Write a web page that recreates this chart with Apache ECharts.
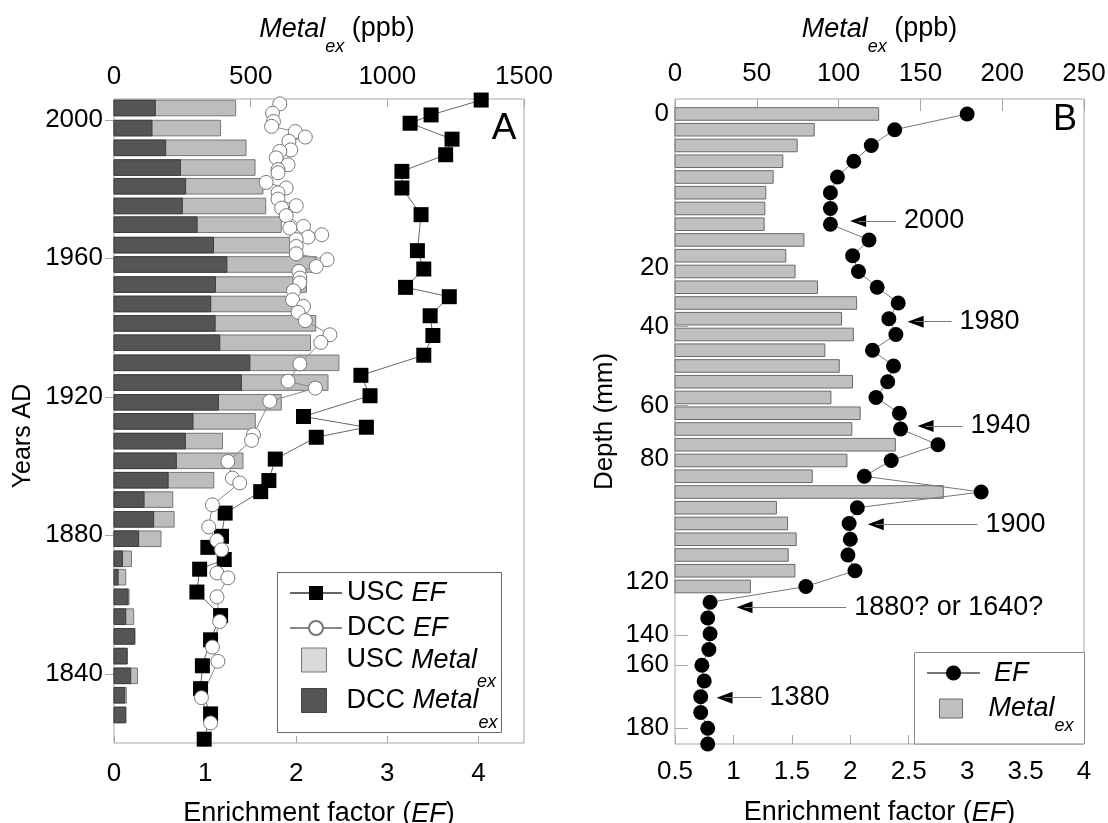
<!DOCTYPE html>
<html>
<head>
<meta charset="utf-8">
<title>Metal enrichment profiles</title>
<script src="https://cdn.jsdelivr.net/npm/echarts@6/dist/echarts.min.js"></script>
<style>
  html, body { margin: 0; padding: 0; background: #fff; }
  #chart { width: 1108px; height: 823px; }
</style>
</head>
<body>
<div id="chart"></div>
<script>
// ---- Panel A: dated cores, years AD ----
const barYearsA = [2003.4, 1997.6, 1991.9, 1986.2, 1980.8, 1975.1, 1969.7, 1963.8, 1958.2, 1952.4, 1946.8,
  1941.2, 1935.6, 1929.8, 1924.1, 1918.4, 1912.9, 1907.2, 1901.5, 1895.9, 1890.3, 1884.6, 1879.0,
  1873.2, 1867.9, 1862.2, 1856.5, 1850.8, 1845.1, 1839.4, 1833.8, 1828.1];
const uscMetalA = [445, 390, 483, 516, 545, 555, 612, 645, 740, 704, 665, 738, 719, 823, 783, 612,
  517, 397, 472, 365, 215, 220, 172, 64, 43, 55, 72, 76, 48, 86, 45, 43];
const dccMetalA = [151, 139, 189, 243, 262, 250, 304, 364, 413, 371, 354, 370, 387, 497, 466, 382,
  289, 261, 228, 198, 110, 145, 90, 31, 15, 51, 43, 76, 48, 61, 39, 43];

const uscYearsA = [2005.7, 2001.4, 1999.0, 1994.4, 1989.9, 1985.1, 1980.3, 1972.6, 1962.2, 1956.9,
  1951.6, 1948.9, 1943.4, 1937.7, 1932.0, 1926.2, 1920.3, 1914.3, 1911.2, 1908.3, 1902.0, 1895.8,
  1892.6, 1886.4, 1879.7, 1876.5, 1873.0, 1870.2, 1863.6, 1856.8, 1849.8, 1842.3, 1835.7, 1828.4, 1821.1];
const uscEfA = [4.03, 3.48, 3.25, 3.71, 3.64, 3.16, 3.16, 3.37, 3.33, 3.40, 3.20, 3.68, 3.47, 3.50,
  3.40, 2.71, 2.81, 2.08, 2.77, 2.22, 1.77, 1.70, 1.61, 1.22, 1.18, 1.03, 1.21, 0.94, 0.91, 1.17,
  1.06, 0.97, 0.95, 1.06, 0.99];

const dccYearsA = [2004.6, 2001.9, 1999.5, 1998.1, 1996.6, 1995.0, 1993.8, 1991.3, 1990.9, 1989.0,
  1987.0, 1985.6, 1984.7, 1981.9, 1980.3, 1978.9, 1977.1, 1975.2, 1974.5, 1972.3, 1969.2, 1968.7,
  1966.8, 1966.1, 1965.4, 1963.4, 1961.3, 1959.6, 1957.6, 1956.2, 1954.3, 1952.9, 1950.6, 1948.0,
  1946.1, 1944.4, 1942.0, 1937.9, 1935.7, 1929.5, 1924.5, 1922.5, 1918.7, 1909.0, 1907.4, 1901.3,
  1896.5, 1895.1, 1888.8, 1882.4, 1878.5, 1875.8, 1869.1, 1867.7, 1862.2, 1855.1, 1847.7, 1843.6,
  1833.1, 1825.8];
const dccEfA = [1.82, 1.74, 1.75, 1.73, 1.99, 2.10, 1.92, 1.94, 1.82, 1.78, 1.91, 1.80, 1.80, 1.67,
  1.89, 1.80, 1.80, 2.00, 1.84, 1.89, 2.08, 1.93, 2.28, 2.13, 2.00, 2.00, 2.00, 2.34, 2.22, 2.03,
  2.04, 2.04, 1.97, 1.96, 2.08, 2.02, 2.10, 2.37, 2.27, 2.04, 1.91, 2.21, 1.71, 1.53, 1.51, 1.25,
  1.30, 1.38, 1.08, 1.04, 1.13, 1.18, 1.13, 1.25, 1.13, 1.16, 1.08, 1.14, 0.96, 1.06];

const yearTicksA = [1840, 1880, 1920, 1960, 2000];
const efTicksA = [0, 1, 2, 3, 4];

// ---- Panel B: one row per sample, depth labels at their sample rows ----
const sampleB = [1, 2, 3, 4, 5, 6, 7, 8, 9, 10, 11, 12, 13, 14, 15, 16, 17, 18, 19, 20, 21, 22, 23,
  24, 25, 26, 27, 28, 29, 30, 31, 32, 33, 34, 35, 36, 37, 38, 39, 40, 41];
const efB = [3.00, 2.38, 2.18, 2.03, 1.89, 1.83, 1.83, 1.83, 2.16, 2.02, 2.07, 2.23, 2.41, 2.33,
  2.39, 2.19, 2.37, 2.32, 2.22, 2.42, 2.43, 2.75, 2.35, 2.12, 3.12, 2.06, 1.99, 2.00, 1.98, 2.04,
  1.62, 0.80, 0.78, 0.80, 0.79, 0.73, 0.75, 0.72, 0.72, 0.78, 0.78];
const metalB = [124.5, 85.1, 74.7, 65.9, 60.0, 55.5, 54.9, 54.5, 78.8, 67.7, 73.4, 87.1, 111.0,
  101.8, 109.0, 91.6, 100.4, 108.5, 95.3, 113.2, 108.1, 134.7, 105.1, 83.9, 164.0, 62.0, 68.8,
  74.1, 69.2, 73.3, 46.1];
const depthTickRowsB = [1.0, 10.8, 14.5, 19.5, 22.9, 30.7, 34.1, 36.0, 40.0];
const depthTickLabelsB = ['0', '20', '40', '60', '80', '120', '140', '160', '180'];

// date arrows: row, EF at the arrow head, EF where the tail ends
const arrowTextB = ['2000', '1980', '1940', '1900', '1880? or 1640?', '1380'];
const arrowRowsB = [7.79, 14.19, 20.81, 27.05, 32.32, 38.06];
const arrowFromB = [2.067, 2.559, 2.644, 2.218, 1.095, 0.924];
const arrowToB = [2.392, 2.866, 2.960, 3.088, 1.965, 1.240];

const FONT = 'Liberation Sans, Arial, Helvetica, sans-serif';
const FRAME = '#a8a8a8';
const TXT = 27;   // titles, legend, annotations
const TICK = 26;  // tick labels

// horizontal bar drawn from 0 to value, centred on a y value
function hBar(halfH, fill, stroke) {
  return function (params, api) {
    const a = api.coord([0, api.value(0) - halfH]);
    const b = api.coord([api.value(1), api.value(0) + halfH]);
    return {
      type: 'rect',
      shape: {
        x: Math.min(a[0], b[0]), y: Math.min(a[1], b[1]),
        width: Math.abs(b[0] - a[0]), height: Math.abs(b[1] - a[1])
      },
      style: { fill: fill, stroke: stroke, lineWidth: 1 }
    };
  };
}

function legendText(name) {
  return name.replace(/EF$/, '{i|EF}').replace(/Metal$/, '{i|Metal}{s|ex}');
}

// subscript is pushed down by top padding; the text block grows by subDrop
function richStyle(subDrop) {
  return {
    i: { fontStyle: 'italic', fontSize: TXT, lineHeight: 28, color: '#000', fontFamily: FONT },
    s: { fontStyle: 'italic', fontSize: 18, lineHeight: 28, color: '#000', fontFamily: FONT,
         padding: [subDrop, 0, 0, 0] }
  };
}

const tickLabel = { color: '#000', fontSize: TICK, fontFamily: FONT };

function legendBox(name, left, centerY, w, h, textPad, subDrop) {
  return {
    data: [name], orient: 'vertical', left: left, top: centerY - (28 + subDrop) / 2,
    itemWidth: w, itemHeight: h, selectedMode: false, formatter: legendText,
    textStyle: { color: '#000', fontSize: TXT, lineHeight: 28, padding: [0, 0, 0, textPad], rich: richStyle(subDrop) }
  };
}

const chart = echarts.init(document.getElementById('chart'));

const option = {
  animation: false,
  textStyle: { fontFamily: FONT },
  grid: [
    { left: 114, top: 99, width: 410, height: 644, show: true, borderColor: FRAME, borderWidth: 1,
      backgroundColor: 'transparent', containLabel: false, outerBoundsMode: 'none' },
    { left: 675, top: 99, width: 409, height: 645, show: true, borderColor: FRAME, borderWidth: 1,
      backgroundColor: 'transparent', containLabel: false, outerBoundsMode: 'none' }
  ],
  xAxis: [
    { // A bottom: EF
      gridIndex: 0, type: 'value', position: 'bottom', min: 0, max: 4.5,
      axisLine: { show: false }, splitLine: { show: false },
      axisTick: { inside: true, length: 7, lineStyle: { color: FRAME }, customValues: efTicksA },
      axisLabel: Object.assign({ margin: 18, customValues: efTicksA, formatter: v => String(v) }, tickLabel),
      name: 'Enrichment factor ({i|EF})', nameLocation: 'middle', nameGap: 57, nameMoveOverlap: false,
      nameTextStyle: { color: '#000', fontSize: TXT, lineHeight: 28, rich: richStyle(36) }
    },
    { // A top: Metal_ex
      gridIndex: 0, type: 'value', position: 'top', min: 0, max: 1500, interval: 500,
      axisLine: { show: false }, splitLine: { show: false },
      axisTick: { inside: true, length: 8, lineStyle: { color: FRAME } },
      axisLabel: Object.assign({ margin: 9, formatter: v => String(v) }, tickLabel),
      name: '{i|Metal}{s|ex} (ppb)', nameLocation: 'middle', nameGap: 56, nameMoveOverlap: false,
      nameTextStyle: { color: '#000', fontSize: TXT, lineHeight: 28, padding: [0, 0, 0, 36], rich: richStyle(36) }
    },
    { // B bottom: EF
      gridIndex: 1, type: 'value', position: 'bottom', min: 0.5, max: 4, interval: 0.5,
      axisLine: { show: false }, splitLine: { show: false },
      axisTick: { inside: true, length: 9, lineStyle: { color: FRAME } },
      axisLabel: Object.assign({ margin: 15, formatter: v => String(v) }, tickLabel),
      name: 'Enrichment factor ({i|EF})', nameLocation: 'middle', nameGap: 55, nameMoveOverlap: false,
      nameTextStyle: { color: '#000', fontSize: TXT, lineHeight: 28, rich: richStyle(36) }
    },
    { // B top: Metal_ex
      gridIndex: 1, type: 'value', position: 'top', min: 0, max: 250, interval: 50,
      axisLine: { show: false }, splitLine: { show: false },
      axisTick: { inside: true, length: 12, lineStyle: { color: FRAME } },
      axisLabel: Object.assign({ margin: 12, formatter: v => String(v) }, tickLabel),
      name: '{i|Metal}{s|ex} (ppb)', nameLocation: 'middle', nameGap: 56, nameMoveOverlap: false,
      nameTextStyle: { color: '#000', fontSize: TXT, lineHeight: 28, rich: richStyle(36) }
    }
  ],
  yAxis: [
    { // A left: years
      gridIndex: 0, type: 'value', position: 'left', min: 1820, max: 2006,
      axisLine: { show: false }, splitLine: { show: false },
      axisTick: { inside: true, length: 10, lineStyle: { color: FRAME }, customValues: yearTicksA },
      axisLabel: Object.assign({ margin: 11, customValues: yearTicksA, formatter: v => String(v) }, tickLabel),
      name: 'Years AD', nameLocation: 'middle', nameGap: 78, nameMoveOverlap: false,
      nameTextStyle: { color: '#000', fontSize: 25, padding: [0, 30, 0, 0] }
    },
    { // A right: tick marks only
      gridIndex: 0, type: 'value', position: 'right', min: 1820, max: 2006,
      axisLine: { show: false }, splitLine: { show: false }, axisLabel: { show: false },
      axisTick: { inside: true, length: 9, lineStyle: { color: FRAME }, customValues: yearTicksA }
    },
    { // B left: sample rows labelled with depth
      gridIndex: 1, type: 'value', position: 'left', inverse: true, min: 0.05, max: 41,
      axisLine: { show: false }, splitLine: { show: false },
      axisTick: { inside: true, length: 13, lineStyle: { color: FRAME }, customValues: depthTickRowsB },
      axisLabel: Object.assign({
        margin: 6, customValues: depthTickRowsB,
        formatter: v => { const k = depthTickRowsB.indexOf(v); return k >= 0 ? depthTickLabelsB[k] : ''; }
      }, tickLabel),
      name: 'Depth (mm)', nameLocation: 'middle', nameGap: 57, nameMoveOverlap: false,
      nameTextStyle: { color: '#000', fontSize: 26 }
    }
  ],
  legend: [
    legendBox('USC EF', 284, 588, 52, 17.5, 0, 0),
    legendBox('DCC EF', 284, 623, 52, 17.5, 0, 0),
    legendBox({ name: 'USC Metal', icon: 'rect', itemStyle: { color: '#d9d9d9', borderColor: '#777', borderWidth: 1 } },
      296, 660, 25, 24, 15, 44),
    legendBox({ name: 'DCC Metal', icon: 'rect', itemStyle: { color: '#555', borderColor: '#444', borderWidth: 1 } },
      296, 700.5, 25, 24, 15, 44),
    legendBox('EF', 921, 668, 53, 19, 9, 0),
    legendBox({ name: 'Metal', icon: 'rect', itemStyle: { color: '#c0c0c0', borderColor: '#666', borderWidth: 1 } },
      934, 708.5, 23, 19, 21, 34)
  ],
  graphic: [
    { type: 'rect', z: 1, shape: { x: 277.5, y: 572.5, width: 224, height: 160 },
      style: { fill: '#fff', stroke: '#666', lineWidth: 1 } },
    { type: 'rect', z: 1, shape: { x: 914.5, y: 652.5, width: 170, height: 91.5 },
      style: { fill: '#fff', stroke: '#888', lineWidth: 1 } },
    { type: 'text', x: 504, y: 129, z: 10,
      style: { text: 'A', fill: '#000', fontSize: 37, fontFamily: FONT, align: 'center', verticalAlign: 'middle' } },
    { type: 'text', x: 1065, y: 120, z: 10,
      style: { text: 'B', fill: '#000', fontSize: 36, fontFamily: FONT, align: 'center', verticalAlign: 'middle' } }
  ],
  series: [
    {
      name: 'USC Metal', type: 'custom', xAxisIndex: 1, yAxisIndex: 0,
      encode: { x: 1, y: 0 }, itemStyle: { color: '#bdbdbd' },
      renderItem: hBar(2.25, '#bdbdbd', '#777'),
      data: barYearsA.map((y, i) => [y, uscMetalA[i]])
    },
    {
      name: 'DCC Metal', type: 'custom', xAxisIndex: 1, yAxisIndex: 0,
      encode: { x: 1, y: 0 }, itemStyle: { color: '#555' },
      renderItem: hBar(2.25, '#555555', '#3c3c3c'),
      data: barYearsA.map((y, i) => [y, dccMetalA[i]])
    },
    {
      name: 'USC EF', type: 'line', xAxisIndex: 0, yAxisIndex: 0,
      symbol: 'rect', symbolSize: 15, showSymbol: true,
      itemStyle: { color: '#000' }, lineStyle: { color: '#666', width: 1 },
      data: uscYearsA.map((y, i) => [uscEfA[i], y])
    },
    {
      name: 'DCC EF', type: 'line', xAxisIndex: 0, yAxisIndex: 0,
      symbol: 'circle', symbolSize: 14, showSymbol: true,
      itemStyle: { color: '#fff', borderColor: '#777', borderWidth: 1 },
      lineStyle: { color: '#888', width: 1 },
      data: dccYearsA.map((y, i) => [dccEfA[i], y])
    },
    {
      name: 'Metal', type: 'custom', xAxisIndex: 3, yAxisIndex: 2,
      encode: { x: 1, y: 0 }, itemStyle: { color: '#c0c0c0' },
      renderItem: hBar(0.4, '#c0c0c0', '#6a6a6a'),
      data: metalB.map((v, i) => [sampleB[i], v])
    },
    {
      name: 'EF', type: 'line', xAxisIndex: 2, yAxisIndex: 2,
      symbol: 'circle', symbolSize: 15, showSymbol: true,
      itemStyle: { color: '#000' }, lineStyle: { color: '#777', width: 1 },
      data: efB.map((v, i) => [v, sampleB[i]]),
      markLine: {
        silent: true, animation: false, symbol: ['none', 'none'],
        lineStyle: { color: '#777', width: 1, type: 'solid' },
        label: { show: true, position: 'end', distance: 8, color: '#000', fontSize: TXT, fontFamily: FONT,
                 formatter: p => p.name },
        emphasis: { disabled: true },
        data: arrowTextB.map((t, i) => [
          { name: t, coord: [arrowFromB[i], arrowRowsB[i]] },
          { name: t, coord: [arrowToB[i], arrowRowsB[i]] }
        ])
      }
    },
    {
      name: 'arrow heads', type: 'scatter', xAxisIndex: 2, yAxisIndex: 2, silent: true,
      symbol: 'triangle', symbolSize: [12, 16], symbolRotate: 90,
      itemStyle: { color: '#000', opacity: 1 }, z: 4,
      data: arrowFromB.map((x, i) => [x, arrowRowsB[i]])
    }
  ]
};

chart.setOption(option);
</script>
</body>
</html>
